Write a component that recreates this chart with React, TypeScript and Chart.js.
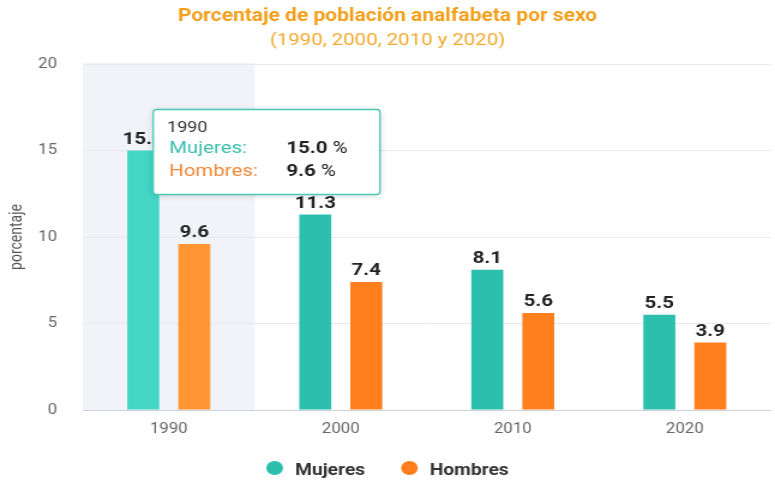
import React, { useEffect, useRef } from 'react';
import { Chart, registerables } from 'chart.js';

Chart.register(...registerables);

const categories = ['1990', '2000', '2010', '2020'];
const mujeres = [15.0, 11.3, 8.1, 5.5];
const hombres = [9.6, 7.4, 5.6, 3.9];
const seriesNames = ['Mujeres', 'Hombres'];
const yTicks = [0, 5, 10, 15, 20];
const chartTitle = 'Porcentaje de población analfabeta por sexo';
const chartSubtitle = '(1990, 2000, 2010 y 2020)';
const yAxisTitle = 'porcentaje';
const activeIndex = 0;

// logical canvas size; the reference image is horizontally stretched, so the canvas is scaled by CSS
const W = 646;
const H = 487;
const FONT = 'Roboto, "Noto Sans", sans-serif';
const TEAL = '#2CBFAE';
const TEAL_HI = '#44D6C5';
const ORANGE = '#FF7F1E';
const ORANGE_HI = '#FF9633';
const seriesColors = [TEAL, ORANGE];
const seriesHiColors = [TEAL_HI, ORANGE_HI];
const tooltipLabelColors = ['#3BBFAF', '#F0893A'];

const bandPlugin = {
  id: 'hoverBand',
  beforeDraw(chart: any) {
    const { ctx, chartArea } = chart;
    const xs = chart.scales.x;
    const w = (chartArea.right - chartArea.left) / categories.length;
    const cx = xs.getPixelForValue(activeIndex);
    ctx.save();
    ctx.fillStyle = '#F1F3F8';
    ctx.fillRect(cx - w / 2, chartArea.top - 1, w, chartArea.bottom - chartArea.top + 1);
    ctx.restore();
  },
};

const valueLabelPlugin = {
  id: 'valueLabels',
  afterDatasetsDraw(chart: any) {
    const { ctx } = chart;
    ctx.save();
    ctx.font = `bold 17px ${FONT}`;
    ctx.fillStyle = '#222';
    ctx.textAlign = 'center';
    ctx.textBaseline = 'alphabetic';
    chart.data.datasets.forEach((ds: any, di: number) => {
      const meta = chart.getDatasetMeta(di);
      meta.data.forEach((bar: any, i: number) => {
        ctx.fillText(Number(ds.data[i]).toFixed(1), bar.x, bar.y - 7);
      });
    });
    ctx.restore();
  },
};

const decorPlugin = {
  id: 'decor',
  afterDraw(chart: any) {
    const { ctx } = chart;
    ctx.save();
    // title + subtitle
    ctx.textAlign = 'center';
    ctx.textBaseline = 'alphabetic';
    ctx.fillStyle = '#F29F1C';
    ctx.font = `bold 17.5px ${FONT}`;
    ctx.fillText(chartTitle, W / 2, 21);
    ctx.fillStyle = '#F5A82E';
    ctx.font = `17px ${FONT}`;
    ctx.fillText(chartSubtitle, W / 2, 45);

    // legend
    ctx.font = `bold 16px ${FONT}`;
    const r = 7;
    const gapText = 10;
    const gapItems = 30;
    const widths = seriesNames.map((n) => ctx.measureText(n).width);
    const total = widths.reduce((a, w) => a + 2 * r + gapText + w, 0) + gapItems * (seriesNames.length - 1);
    let x = W / 2 - total / 2;
    const ly = 468;
    seriesNames.forEach((name, i) => {
      ctx.fillStyle = seriesColors[i];
      ctx.beginPath();
      ctx.arc(x + r, ly, r, 0, Math.PI * 2);
      ctx.fill();
      ctx.fillStyle = '#333';
      ctx.textAlign = 'left';
      ctx.fillText(name, x + 2 * r + gapText, 475);
      x += 2 * r + gapText + widths[i] + gapItems;
    });

    // tooltip
    const bar = chart.getDatasetMeta(0).data[activeIndex];
    const left = bar.x + 8.3;
    const top = bar.y - 41;
    const tw = 189;
    const th = 85;
    ctx.shadowColor = 'rgba(0,0,0,0.18)';
    ctx.shadowBlur = 6;
    ctx.shadowOffsetY = 1;
    ctx.fillStyle = '#FFFFFF';
    ctx.beginPath();
    ctx.roundRect(left, top, tw, th, 3);
    ctx.fill();
    ctx.shadowColor = 'transparent';
    ctx.strokeStyle = '#4CC9B8';
    ctx.lineWidth = 1.3;
    ctx.stroke();

    ctx.textAlign = 'left';
    ctx.fillStyle = '#333';
    ctx.font = `15px ${FONT}`;
    ctx.fillText(categories[activeIndex], left + 11.5, top + 22.5);
    const values = [mujeres[activeIndex], hombres[activeIndex]];
    seriesNames.forEach((name, i) => {
      const by = top + 43.5 + i * 23;
      ctx.font = `17px ${FONT}`;
      ctx.fillStyle = tooltipLabelColors[i];
      ctx.fillText(name + ':', left + 13.3, by);
      ctx.font = `bold 17px ${FONT}`;
      ctx.fillStyle = '#222';
      const vt = values[i].toFixed(1);
      ctx.fillText(vt, left + 111, by);
      const vw = ctx.measureText(vt).width;
      ctx.font = `17px ${FONT}`;
      ctx.fillText(' %', left + 111 + vw, by);
    });
    ctx.restore();
  },
};

export default function App() {
  const canvasRef = useRef<HTMLCanvasElement | null>(null);

  useEffect(() => {
    document.body.style.margin = '0';
    const canvas = canvasRef.current;
    if (!canvas) return;
    const chart = new Chart(canvas, {
      type: 'bar',
      data: {
        labels: categories,
        datasets: [
          {
            label: seriesNames[0],
            data: mujeres,
            backgroundColor: categories.map((_, i) => (i === activeIndex ? seriesHiColors[0] : seriesColors[0])),
            borderWidth: 0,
            categoryPercentage: 0.593,
            barPercentage: 0.627,
          },
          {
            label: seriesNames[1],
            data: hombres,
            backgroundColor: categories.map((_, i) => (i === activeIndex ? seriesHiColors[1] : seriesColors[1])),
            borderWidth: 0,
            categoryPercentage: 0.593,
            barPercentage: 0.627,
          },
        ],
      },
      options: {
        responsive: false,
        animation: false,
        devicePixelRatio: 1,
        events: [],
        layout: { padding: { top: 64, left: 0, right: 3.5, bottom: 47 } },
        plugins: {
          legend: { display: false },
          title: { display: false },
          tooltip: { enabled: false },
        },
        scales: {
          x: {
            grid: { display: false, drawTicks: false },
            border: { display: false },
            ticks: { color: '#666', font: { family: FONT, size: 14 }, padding: 11 },
            afterFit: (s: any) => {
              s.height = 30;
            },
          },
          y: {
            min: 0,
            max: 20,
            afterBuildTicks: (s: any) => {
              s.ticks = yTicks.map((v) => ({ value: v }));
            },
            grid: { color: (c: any) => (c.tick && c.tick.value === 0 ? '#CDD2DC' : '#E6E9EE'), drawTicks: false, lineWidth: 1 },
            border: { display: false },
            ticks: { color: '#666', font: { family: FONT, size: 14 }, padding: 21.5 },
            title: {
              display: true,
              text: yAxisTitle,
              color: '#555',
              font: { family: FONT, size: 14 },
              padding: { top: 6.2, bottom: 0 },
            },
            afterFit: (s: any) => {
              s.width = 69;
            },
          },
        },
      },
      plugins: [bandPlugin, valueLabelPlugin, decorPlugin],
    });
    return () => chart.destroy();
  }, []);

  return (
    <canvas
      ref={canvasRef}
      width={W}
      height={H}
      style={{ width: '775px', height: '487px', display: 'block' }}
    />
  );
}
